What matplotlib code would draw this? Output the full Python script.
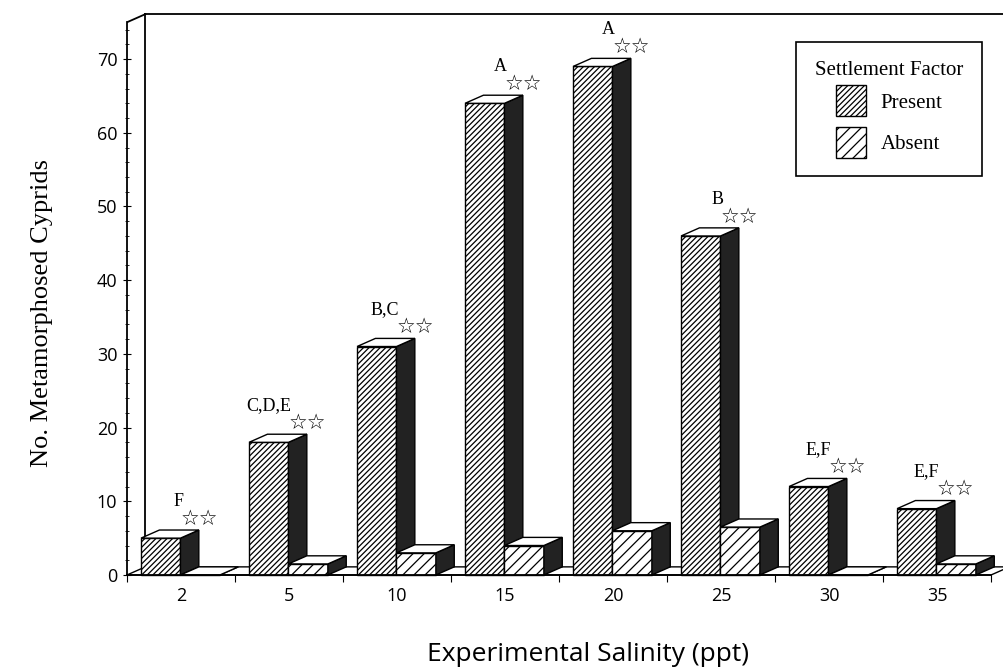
import matplotlib as mpl
mpl.use('Agg')
import matplotlib.pyplot as plt
from matplotlib.patches import Polygon, Patch
import numpy as np

salinity = ['2', '5', '10', '15', '20', '25', '30', '35']
present = [5, 18, 31, 64, 69, 46, 12, 9]
absent = [0, 1.5, 3, 4, 6, 6.5, 0, 1.5]
letters = ['F', 'C,D,E', 'B,C', 'A', 'A', 'B', 'E,F', 'E,F']

# pseudo 3-D geometry (data units)
DX, DY = 0.17, 1.1
BAR_W = 0.365
START = 0.13
YTOP = 75

plt.rcParams['font.family'] = ['Liberation Serif', 'DejaVu Serif']
plt.rcParams['hatch.linewidth'] = 0.9

fig = plt.figure(figsize=(10.04, 6.71), dpi=100)
ax = fig.add_axes([0.1265, 0.1431, 0.8735, 0.8457])
ax.set_xlim(0, 8.12)
ax.set_ylim(0, 77)


def bar3d(x0, h, hatch, z):
    front = Polygon([(x0, 0), (x0 + BAR_W, 0), (x0 + BAR_W, h), (x0, h)],
                    closed=True, facecolor='white', edgecolor='black',
                    hatch=hatch, lw=1.0, zorder=z, clip_on=False)
    side = Polygon([(x0 + BAR_W, 0), (x0 + BAR_W + DX, DY),
                    (x0 + BAR_W + DX, h + DY), (x0 + BAR_W, h)],
                   closed=True, facecolor='#222222', edgecolor='black',
                   lw=1.0, zorder=z, clip_on=False)
    top = Polygon([(x0, h), (x0 + BAR_W, h), (x0 + BAR_W + DX, h + DY),
                   (x0 + DX, h + DY)],
                  closed=True, facecolor='white', edgecolor='black',
                  lw=1.0, zorder=z, clip_on=False)
    for p in (front, side, top):
        ax.add_patch(p)


# floor strip
n = len(salinity)
ax.add_patch(Polygon([(0, 0), (n, 0), (n + DX, DY), (DX, DY)], closed=True,
                     facecolor='white', edgecolor='black', lw=1.0,
                     zorder=1, clip_on=False))

# back wall
ax.plot([DX, DX], [DY, YTOP + DY], color='black', lw=1.3, zorder=1)
ax.plot([DX, 8.12], [YTOP + DY, YTOP + DY], color='black', lw=1.3,
        zorder=1, clip_on=False)
ax.plot([0, DX], [YTOP, YTOP + DY], color='black', lw=1.3, zorder=1)

for i in range(n):
    bar3d(i + START, present[i], '//////', 3 + 2 * i)
    bar3d(i + START + BAR_W, absent[i], '///', 4 + 2 * i)
    ax.text(i + 0.67, present[i] + 2.6, '☆☆', family='DejaVu Sans',
            fontsize=15, ha='center', va='center', zorder=30)
    ax.text(i + 0.52, present[i] + 5.0, letters[i], fontsize=13,
            ha='right', va='center', zorder=30)

# axes styling
for s in ('top', 'right'):
    ax.spines[s].set_visible(False)
ax.spines['left'].set_bounds(0, YTOP)
ax.spines['bottom'].set_bounds(0, n)
ax.spines['left'].set_linewidth(1.3)
ax.spines['bottom'].set_linewidth(1.3)
ax.spines['left'].set_zorder(50)
ax.spines['bottom'].set_zorder(50)

ax.set_yticks(np.arange(0, 71, 10))
ax.set_yticks(np.arange(0, 75, 2), minor=True)
ax.tick_params(axis='y', which='major', direction='inout', length=6,
               labelsize=13, pad=4)
ax.tick_params(axis='y', which='minor', direction='inout', length=3)
for lab in ax.get_yticklabels():
    lab.set_family('Open Sans')

ax.set_xticks(np.arange(0, n + 1))
ax.set_xticklabels([])
ax.set_xticks(np.arange(n) + 0.5, minor=True)
ax.set_xticklabels(salinity, minor=True, family='Open Sans')
ax.tick_params(axis='x', which='major', direction='out', length=5)
ax.tick_params(axis='x', which='minor', length=0, labelsize=13, pad=9)

ax.set_ylabel('No. Metamorphosed Cyprids', fontsize=19)
ax.yaxis.set_label_coords(-0.084, 0.462)
ax.set_xlabel('Experimental Salinity (ppt)', fontsize=19,
              family='Open Sans')
ax.xaxis.set_label_coords(0.526, -0.118)

handles = [Patch(facecolor='white', edgecolor='black', hatch='//////'),
           Patch(facecolor='white', edgecolor='black', hatch='///')]
leg = ax.legend(handles, ['Present', 'Absent'], title='Settlement Factor',
                loc='upper right', bbox_to_anchor=(0.975, 0.939),
                fontsize=15, title_fontsize=15, handlelength=1.45,
                handleheight=1.9, fancybox=False, edgecolor='black',
                framealpha=1, borderpad=0.9, labelspacing=0.5,
                handletextpad=0.7, borderaxespad=0)
leg.get_frame().set_linewidth(1.2)
leg._legend_box.sep = 4
leg.set_zorder(60)

plt.savefig('out.png', dpi=100)
